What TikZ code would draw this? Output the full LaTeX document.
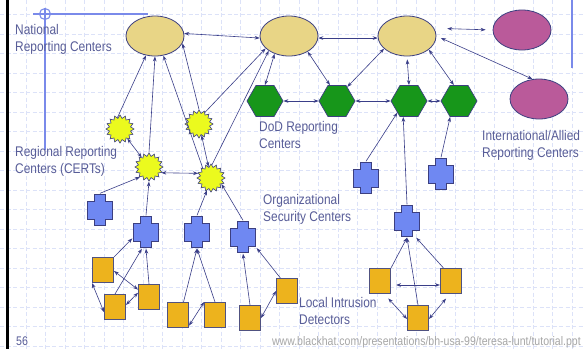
\documentclass[tikz,border=0pt]{standalone}
\usepackage{fontspec}
\setmainfont{Liberation Sans}[FakeStretch=0.85]
\usepackage{xcolor}
\definecolor{LabelInk}{HTML}{585D98}
\definecolor{ArrowInk}{HTML}{3A3E88}
\definecolor{EdgeInk}{HTML}{3C3F80}
\definecolor{GridBlue}{HTML}{DCE2F8}
\definecolor{GuideBlue}{HTML}{7A8AEA}
\definecolor{Khaki}{HTML}{E8D586}
\definecolor{Orchid}{HTML}{BA5A9A}
\definecolor{HexGreen}{HTML}{17961A}
\definecolor{Burst}{HTML}{EBFA1E}
\definecolor{CrossBlue}{HTML}{6F88F2}
\definecolor{Amber}{HTML}{EDB31D}
\definecolor{UrlGray}{HTML}{A6A6A6}
\usetikzlibrary{arrows.meta,shapes.geometric}

\begin{document}
\begin{tikzpicture}[
  x=1pt, y=-1pt,
  national/.style={ellipse,draw=EdgeInk,fill=Khaki,line width=.8pt,
    minimum width=58pt,minimum height=40pt,inner sep=0pt},
  allied/.style={national,fill=Orchid},
  dodctr/.style={regular polygon,regular polygon sides=6,minimum size=36pt,
    inner sep=0pt,draw=EdgeInk,fill=HexGreen,line width=.7pt},
  certctr/.style={star,star points=16,star point ratio=1.3,minimum size=28pt,
    inner sep=0pt,draw=EdgeInk,fill=Burst,line width=.6pt},
  orgctr/.style={rectangle,minimum width=27pt,minimum height=33pt,inner sep=0pt},
  crossline/.style={draw=EdgeInk,fill=CrossBlue,line width=.8pt},
  detector/.style={rectangle,draw=EdgeInk!70!gray,fill=Amber,line width=1pt,
    minimum width=21pt,minimum height=25pt,inner sep=0pt},
  grouptext/.style={text=LabelInk,align=left,anchor=north west,inner sep=0pt,
    font=\fontsize{14}{17}\selectfont},
  gridline/.style={draw=GridBlue,dash pattern=on 4pt off 2.5pt,line width=.6pt},
  guide/.style={draw=GuideBlue,line width=1.1pt},
  link/.style={-{Stealth[length=5pt,width=3.6pt]},draw=ArrowInk,line width=.6pt},
  dlink/.style={link,{Stealth[length=5pt,width=3.6pt]}-{Stealth[length=5pt,width=3.6pt]}}
]
\useasboundingbox (0,0) rectangle (585,349);
\fill[white] (0,0) rectangle (585,349);
% slide grid
\foreach \gx in {0,...,29}
  \draw[gridline] ({6.5+19.5*\gx},0) -- ({6.5+19.5*\gx},349);
\foreach \gy in {0,...,17}
  \draw[gridline] (0,{14.5+19.5*\gy}) -- (585,{14.5+19.5*\gy});
\fill[black] (6,0) rectangle (8.5,349);
\draw[guide] (33,14) -- (148,14);
\draw[guide] (45,8) -- (45,150);
\draw[guide] (45,14) circle (5.5pt);
\draw[guide] (572,0) -- (572,68);

% labels
\node[grouptext] (natlbl) at (15,24) {National\\Reporting Centers};
\node[grouptext] (certlbl) at (15,146) {Regional Reporting\\Centers (CERTs)};
\node[grouptext] (dodlbl) at (259,121) {DoD Reporting\\Centers};
\node[grouptext] (orglbl) at (263,194) {Organizational\\Security Centers};
\node[grouptext] (allylbl) at (482,130) {International/Allied\\Reporting Centers};
\node[grouptext] (idslbl) at (299,297) {Local Intrusion\\Detectors};
\node[text=LabelInk,font=\fontsize{12.5}{14}\selectfont,anchor=base west,inner sep=0pt]
  (pageno) at (16,345) {56};
\node[text=UrlGray,font=\fontsize{12.4}{14}\selectfont,anchor=base east,inner sep=0pt]
  (srcurl) at (581,345.5) {www.blackhat.com/presentations/bh-usa-99/teresa-lunt/tutorial.ppt};

% national and allied
\node[national] (natA) at (155,36) {};
\node[national] (natB) at (289,36) {};
\node[national] (natC) at (407,36) {};
\node[allied] (allyA) at (522,30) {};
\node[allied] (allyB) at (539,99) {};
% DoD
\node[dodctr] (dodA) at (265,101) {};
\node[dodctr] (dodB) at (337,101) {};
\node[dodctr] (dodC) at (409,101) {};
\node[dodctr] (dodD) at (459,101) {};
% CERTs
\node[certctr] (certA) at (120,129) {};
\node[certctr] (certB) at (149,167) {};
\node[certctr] (certC) at (199,124) {};
\node[certctr] (certD) at (211,178) {};
% organizational
\node[orgctr] (orgA) at (100,210) {};
\node[orgctr] (orgB) at (146,232) {};
\node[orgctr] (orgC) at (197,232) {};
\node[orgctr] (orgD) at (243,237) {};
\node[orgctr] (orgE) at (366,178) {};
\node[orgctr] (orgF) at (441,174) {};
\node[orgctr] (orgG) at (407,221) {};
\foreach \c in {orgA,orgB,orgC,orgD,orgE,orgF,orgG}
  \draw[crossline] ([shift={(-5.5pt,15.5pt)}]\c.center) -- ++(11pt,0)
    -- ++(0,-6.5pt) -- ++(7pt,0) -- ++(0,-18pt) -- ++(-7pt,0) -- ++(0,-6.5pt)
    -- ++(-11pt,0) -- ++(0,6.5pt) -- ++(-7pt,0) -- ++(0,18pt) -- ++(7pt,0) -- cycle;
% local detectors
\node[detector] (idsA) at (103,270) {};
\node[detector] (idsB) at (115,307) {};
\node[detector] (idsC) at (149,297) {};
\node[detector] (idsD) at (178,315) {};
\node[detector] (idsE) at (215,315) {};
\node[detector] (idsF) at (250,318) {};
\node[detector] (idsG) at (287,291) {};
\node[detector] (idsH) at (380,281) {};
\node[detector] (idsI) at (451,281) {};
\node[detector] (idsJ) at (418,318) {};

% national links
\draw[link] (certA.103) -- (natA.245);
\draw[link] (certB.north) -- (natA.south);
\draw[link] (certD.130) -- (natA.293);
\draw[link] (certC.north) -- (natA.345);
\draw[dlink] (natA.5) -- (natB.184);
\draw[dlink] (natB.356) -- (natC.184);
\draw[link] (certC.63) -- (natB.208);
\draw[link] (certD.86) -- (natB.216);
\draw[dlink] (natB.231) -- (dodA.north);
\draw[dlink] (natB.320) -- (dodB.114);
\draw[dlink] (natC.209) -- (dodB.54);
\draw[dlink,shorten <=3pt] (natC.south) -- (dodC.north);
\draw[dlink] (natC.328) -- (dodD.108);
\draw[dlink,shorten <=13pt,shorten >=7pt] (natC.16) -- (allyA.west);
\draw[dlink,shorten <=5pt] (natC.east) -- (allyB.108);
% DoD chain
\draw[dlink] (dodA.east) -- (dodB.west);
\draw[dlink] (dodB.east) -- (dodC.west);
\draw[dlink] (dodC.east) -- (dodD.west);
\draw[link] (orgE.north) -- (dodC.225);
\draw[link] (orgG.north) -- (dodC.250);
\draw[link] (orgF.north) -- (dodD.241);
% CERT links
\draw[dlink] (certA) -- (certB);
\draw[dlink] (certC) -- (certD);
\draw[dlink] (certB.335) -- (certD.160);
\draw[link] (orgA.north) -- (certB.228);
\draw[link] (orgB.north) -- (certB.south);
\draw[link] (orgC.north) -- (certD.252);
\draw[link] (orgD.north) -- (certD.330);
% detector links
\draw[link] (idsA.north east) -- (orgB.205);
\draw[link] (idsB.north) -- (orgB.256);
\draw[link] (idsC.north) -- (orgB.south);
\draw[dlink] (idsA.355) -- (idsC.146);
\draw[dlink] (idsB.11) -- (idsC.159);
\draw[dlink] (idsA.south west) -- (idsB.205);
\draw[link] (idsD.67) -- (orgC.south);
\draw[link] (idsE.north) -- (orgC.south);
\draw[dlink] (idsD.316) -- (idsE.130);
\draw[link] (idsF.north) -- (orgD.south);
\draw[link] (idsG.117) -- (orgD.321);
\draw[dlink] (idsF.east) -- (idsG.west);
\draw[link] (idsH.north east) -- (orgG.south);
\draw[link] (idsI.120) -- (orgG.299);
\draw[link] (idsJ.north) -- (orgG.south);
\draw[dlink,shorten <=5pt] (idsH.340) -- (idsI.200);
\draw[dlink,shorten <=6pt] (idsH.288) -- (idsJ.185);
\draw[dlink,shorten <=6pt] (idsI.265) -- (idsJ.355);
\end{tikzpicture}
\end{document}
